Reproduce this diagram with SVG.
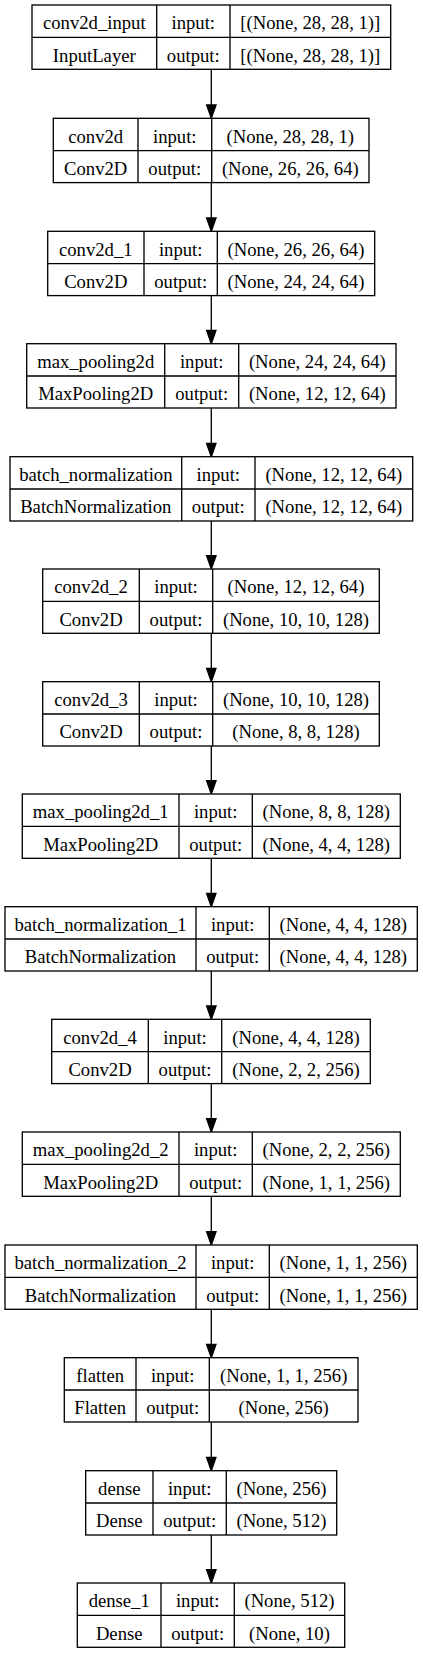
<svg xmlns="http://www.w3.org/2000/svg" width="423" height="1653" viewBox="0 0 423 1653">
<style>
.bx{fill:#fff;stroke:#000;stroke-width:1.33}
.ln{stroke:#000;stroke-width:1.33;fill:none}
text{font-family:"Liberation Serif","Times New Roman",serif;font-size:18.67px;fill:#000;text-anchor:middle}
.ed{stroke:#000;stroke-width:1.33;fill:none;marker-end:url(#ah)}
</style>
<defs>
<marker id="ah" markerUnits="userSpaceOnUse" markerWidth="18" markerHeight="14" viewBox="-1 -7 18 14" refX="12.3" refY="0" orient="auto">
<path d="M0,-4.7 L13.3,0 L0,4.7 Z" fill="#000" stroke="#000" stroke-width="1.33"/>
</marker>
</defs>
<rect width="423" height="1653" fill="#fff"/>
<g id="edges">
<line class="ed" x1="211.3" y1="69.3" x2="211.3" y2="117.3"/>
<line class="ed" x1="211.3" y1="182.6" x2="211.3" y2="230.3"/>
<line class="ed" x1="211.3" y1="295.6" x2="211.3" y2="342.7"/>
<line class="ed" x1="211.3" y1="408" x2="211.3" y2="455.7"/>
<line class="ed" x1="211.3" y1="521" x2="211.3" y2="568"/>
<line class="ed" x1="211.3" y1="633.3" x2="211.3" y2="680.7"/>
<line class="ed" x1="211.3" y1="746" x2="211.3" y2="793"/>
<line class="ed" x1="211.3" y1="858.3" x2="211.3" y2="905.7"/>
<line class="ed" x1="211.3" y1="971" x2="211.3" y2="1018.3"/>
<line class="ed" x1="211.3" y1="1083.6" x2="211.3" y2="1131"/>
<line class="ed" x1="211.3" y1="1196.3" x2="211.3" y2="1244"/>
<line class="ed" x1="211.3" y1="1309.3" x2="211.3" y2="1356.7"/>
<line class="ed" x1="211.3" y1="1422" x2="211.3" y2="1469.7"/>
<line class="ed" x1="211.3" y1="1535" x2="211.3" y2="1582"/>
</g>
<g id="n1">
<rect class="bx" x="32" y="5" width="358.7" height="64.3"/>
<line class="ln" x1="32" y1="37.3" x2="390.7" y2="37.3"/>
<line class="ln" x1="156.7" y1="5" x2="156.7" y2="69.3"/>
<line class="ln" x1="230" y1="5" x2="230" y2="69.3"/>
<text x="94.3" y="29.3">conv2d_input</text><text x="193.3" y="29.3">input:</text><text x="310.3" y="29.3">[(None, 28, 28, 1)]</text>
<text x="94.3" y="61.6">InputLayer</text><text x="193.3" y="61.6">output:</text><text x="310.3" y="61.6">[(None, 28, 28, 1)]</text>
</g>
<g id="n2">
<rect class="bx" x="53.3" y="118.3" width="315.7" height="64.3"/>
<line class="ln" x1="53.3" y1="150.6" x2="369" y2="150.6"/>
<line class="ln" x1="138" y1="118.3" x2="138" y2="182.6"/>
<line class="ln" x1="211.7" y1="118.3" x2="211.7" y2="182.6"/>
<text x="95.7" y="142.6">conv2d</text><text x="174.8" y="142.6">input:</text><text x="290.3" y="142.6">(None, 28, 28, 1)</text>
<text x="95.7" y="174.9">Conv2D</text><text x="174.8" y="174.9">output:</text><text x="290.3" y="174.9">(None, 26, 26, 64)</text>
</g>
<g id="n3">
<rect class="bx" x="47.7" y="231.3" width="327" height="64.3"/>
<line class="ln" x1="47.7" y1="263.6" x2="374.7" y2="263.6"/>
<line class="ln" x1="144" y1="231.3" x2="144" y2="295.6"/>
<line class="ln" x1="217.3" y1="231.3" x2="217.3" y2="295.6"/>
<text x="95.8" y="255.6">conv2d_1</text><text x="180.7" y="255.6">input:</text><text x="296" y="255.6">(None, 26, 26, 64)</text>
<text x="95.8" y="287.9">Conv2D</text><text x="180.7" y="287.9">output:</text><text x="296" y="287.9">(None, 24, 24, 64)</text>
</g>
<g id="n4">
<rect class="bx" x="26.7" y="343.7" width="369.3" height="64.3"/>
<line class="ln" x1="26.7" y1="376" x2="396" y2="376"/>
<line class="ln" x1="164.7" y1="343.7" x2="164.7" y2="408"/>
<line class="ln" x1="238.7" y1="343.7" x2="238.7" y2="408"/>
<text x="95.7" y="368">max_pooling2d</text><text x="201.7" y="368">input:</text><text x="317.3" y="368">(None, 24, 24, 64)</text>
<text x="95.7" y="400.3">MaxPooling2D</text><text x="201.7" y="400.3">output:</text><text x="317.3" y="400.3">(None, 12, 12, 64)</text>
</g>
<g id="n5">
<rect class="bx" x="10" y="456.7" width="402.7" height="64.3"/>
<line class="ln" x1="10" y1="489" x2="412.7" y2="489"/>
<line class="ln" x1="181.7" y1="456.7" x2="181.7" y2="521"/>
<line class="ln" x1="255" y1="456.7" x2="255" y2="521"/>
<text x="95.8" y="481">batch_normalization</text><text x="218.3" y="481">input:</text><text x="333.8" y="481">(None, 12, 12, 64)</text>
<text x="95.8" y="513.3">BatchNormalization</text><text x="218.3" y="513.3">output:</text><text x="333.8" y="513.3">(None, 12, 12, 64)</text>
</g>
<g id="n6">
<rect class="bx" x="42.7" y="569" width="336.6" height="64.3"/>
<line class="ln" x1="42.7" y1="601.3" x2="379.3" y2="601.3"/>
<line class="ln" x1="139.3" y1="569" x2="139.3" y2="633.3"/>
<line class="ln" x1="212.7" y1="569" x2="212.7" y2="633.3"/>
<text x="91" y="593.3">conv2d_2</text><text x="176" y="593.3">input:</text><text x="296" y="593.3">(None, 12, 12, 64)</text>
<text x="91" y="625.6">Conv2D</text><text x="176" y="625.6">output:</text><text x="296" y="625.6">(None, 10, 10, 128)</text>
</g>
<g id="n7">
<rect class="bx" x="42.7" y="681.7" width="336.6" height="64.3"/>
<line class="ln" x1="42.7" y1="714" x2="379.3" y2="714"/>
<line class="ln" x1="139.3" y1="681.7" x2="139.3" y2="746"/>
<line class="ln" x1="212.7" y1="681.7" x2="212.7" y2="746"/>
<text x="91" y="706">conv2d_3</text><text x="176" y="706">input:</text><text x="296" y="706">(None, 10, 10, 128)</text>
<text x="91" y="738.3">Conv2D</text><text x="176" y="738.3">output:</text><text x="296" y="738.3">(None, 8, 8, 128)</text>
</g>
<g id="n8">
<rect class="bx" x="22.3" y="794" width="378" height="64.3"/>
<line class="ln" x1="22.3" y1="826.3" x2="400.3" y2="826.3"/>
<line class="ln" x1="179" y1="794" x2="179" y2="858.3"/>
<line class="ln" x1="252.3" y1="794" x2="252.3" y2="858.3"/>
<text x="100.7" y="818.3">max_pooling2d_1</text><text x="215.7" y="818.3">input:</text><text x="326.3" y="818.3">(None, 8, 8, 128)</text>
<text x="100.7" y="850.6">MaxPooling2D</text><text x="215.7" y="850.6">output:</text><text x="326.3" y="850.6">(None, 4, 4, 128)</text>
</g>
<g id="n9">
<rect class="bx" x="5" y="906.7" width="412.3" height="64.3"/>
<line class="ln" x1="5" y1="939" x2="417.3" y2="939"/>
<line class="ln" x1="196" y1="906.7" x2="196" y2="971"/>
<line class="ln" x1="269.3" y1="906.7" x2="269.3" y2="971"/>
<text x="100.5" y="931">batch_normalization_1</text><text x="232.7" y="931">input:</text><text x="343.3" y="931">(None, 4, 4, 128)</text>
<text x="100.5" y="963.3">BatchNormalization</text><text x="232.7" y="963.3">output:</text><text x="343.3" y="963.3">(None, 4, 4, 128)</text>
</g>
<g id="n10">
<rect class="bx" x="51.7" y="1019.3" width="318.6" height="64.3"/>
<line class="ln" x1="51.7" y1="1051.6" x2="370.3" y2="1051.6"/>
<line class="ln" x1="148.3" y1="1019.3" x2="148.3" y2="1083.6"/>
<line class="ln" x1="221.7" y1="1019.3" x2="221.7" y2="1083.6"/>
<text x="100" y="1043.6">conv2d_4</text><text x="185" y="1043.6">input:</text><text x="296" y="1043.6">(None, 4, 4, 128)</text>
<text x="100" y="1075.9">Conv2D</text><text x="185" y="1075.9">output:</text><text x="296" y="1075.9">(None, 2, 2, 256)</text>
</g>
<g id="n11">
<rect class="bx" x="22.3" y="1132" width="378" height="64.3"/>
<line class="ln" x1="22.3" y1="1164.3" x2="400.3" y2="1164.3"/>
<line class="ln" x1="179" y1="1132" x2="179" y2="1196.3"/>
<line class="ln" x1="252.3" y1="1132" x2="252.3" y2="1196.3"/>
<text x="100.7" y="1156.3">max_pooling2d_2</text><text x="215.7" y="1156.3">input:</text><text x="326.3" y="1156.3">(None, 2, 2, 256)</text>
<text x="100.7" y="1188.6">MaxPooling2D</text><text x="215.7" y="1188.6">output:</text><text x="326.3" y="1188.6">(None, 1, 1, 256)</text>
</g>
<g id="n12">
<rect class="bx" x="5" y="1245" width="412.3" height="64.3"/>
<line class="ln" x1="5" y1="1277.3" x2="417.3" y2="1277.3"/>
<line class="ln" x1="196" y1="1245" x2="196" y2="1309.3"/>
<line class="ln" x1="269.3" y1="1245" x2="269.3" y2="1309.3"/>
<text x="100.5" y="1269.3">batch_normalization_2</text><text x="232.7" y="1269.3">input:</text><text x="343.3" y="1269.3">(None, 1, 1, 256)</text>
<text x="100.5" y="1301.6">BatchNormalization</text><text x="232.7" y="1301.6">output:</text><text x="343.3" y="1301.6">(None, 1, 1, 256)</text>
</g>
<g id="n13">
<rect class="bx" x="64.3" y="1357.7" width="293.7" height="64.3"/>
<line class="ln" x1="64.3" y1="1390" x2="358" y2="1390"/>
<line class="ln" x1="136" y1="1357.7" x2="136" y2="1422"/>
<line class="ln" x1="209.3" y1="1357.7" x2="209.3" y2="1422"/>
<text x="100.2" y="1382">flatten</text><text x="172.7" y="1382">input:</text><text x="283.7" y="1382">(None, 1, 1, 256)</text>
<text x="100.2" y="1414.3">Flatten</text><text x="172.7" y="1414.3">output:</text><text x="283.7" y="1414.3">(None, 256)</text>
</g>
<g id="n14">
<rect class="bx" x="85.7" y="1470.7" width="251" height="64.3"/>
<line class="ln" x1="85.7" y1="1503" x2="336.7" y2="1503"/>
<line class="ln" x1="153" y1="1470.7" x2="153" y2="1535"/>
<line class="ln" x1="226.3" y1="1470.7" x2="226.3" y2="1535"/>
<text x="119.3" y="1495">dense</text><text x="189.7" y="1495">input:</text><text x="281.5" y="1495">(None, 256)</text>
<text x="119.3" y="1527.3">Dense</text><text x="189.7" y="1527.3">output:</text><text x="281.5" y="1527.3">(None, 512)</text>
</g>
<g id="n15">
<rect class="bx" x="77.3" y="1583" width="267.4" height="64.3"/>
<line class="ln" x1="77.3" y1="1615.3" x2="344.7" y2="1615.3"/>
<line class="ln" x1="161" y1="1583" x2="161" y2="1647.3"/>
<line class="ln" x1="234.3" y1="1583" x2="234.3" y2="1647.3"/>
<text x="119.2" y="1607.3">dense_1</text><text x="197.7" y="1607.3">input:</text><text x="289.5" y="1607.3">(None, 512)</text>
<text x="119.2" y="1639.6">Dense</text><text x="197.7" y="1639.6">output:</text><text x="289.5" y="1639.6">(None, 10)</text>
</g>
</svg>
